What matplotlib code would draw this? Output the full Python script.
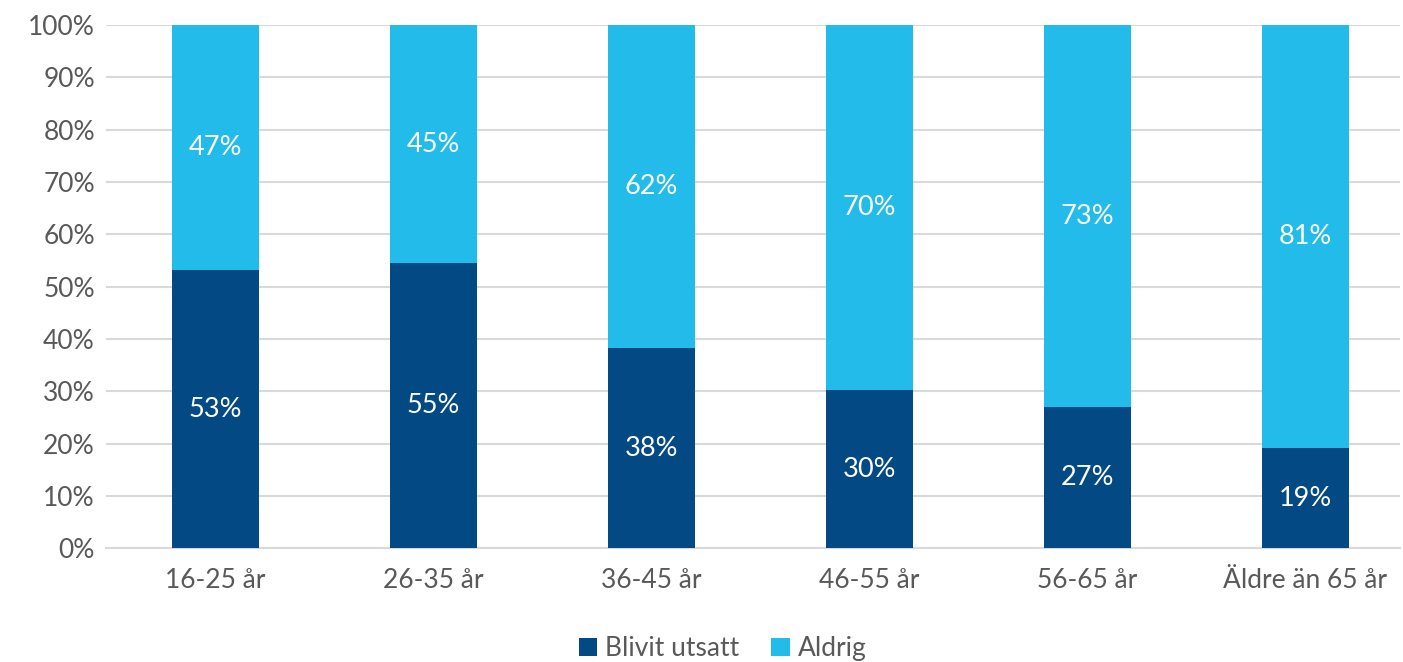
import matplotlib.pyplot as plt
import numpy as np
from matplotlib.ticker import FuncFormatter

plt.rcParams["font.family"] = ["Lato", "DejaVu Sans"]

# ---- Data ----
categories = ["16-25 år", "26-35 år", "36-45 år", "46-55 år", "56-65 år", "Äldre än 65 år"]
blivit_utsatt = [53.2, 54.5, 38.2, 30.2, 27.0, 19.1]
aldrig = [46.8, 45.5, 61.8, 69.8, 73.0, 80.9]
labels_utsatt = ["53%", "55%", "38%", "30%", "27%", "19%"]
labels_aldrig = ["47%", "45%", "62%", "70%", "73%", "81%"]

dark = "#034A84"
light = "#22BBEA"
txt = "#595959"

fig = plt.figure(figsize=(14.03, 6.62), dpi=100)
ax = fig.add_axes([106 / 1403, 0.172, 1294 / 1403, 0.79])

x = np.arange(len(categories))
w = 0.40
b1 = ax.bar(x, blivit_utsatt, w, color=dark, label="Blivit utsatt", zorder=3)
b2 = ax.bar(x, aldrig, w, bottom=blivit_utsatt, color=light, label="Aldrig", zorder=3)

for i in range(len(categories)):
    ax.text(x[i], blivit_utsatt[i] / 2, labels_utsatt[i], ha="center", va="center",
            color="white", fontsize=19.5, zorder=4)
    ax.text(x[i], blivit_utsatt[i] + aldrig[i] / 2, labels_aldrig[i], ha="center", va="center",
            color="white", fontsize=19.5, zorder=4)

ax.set_xlim(-0.502, 5.434)
ax.set_ylim(0, 100)
ax.set_yticks(np.arange(0, 101, 10))
ax.yaxis.set_major_formatter(FuncFormatter(lambda v, _: f"{v:.0f}%"))
ax.set_xticks(x)
ax.set_xticklabels(categories)
ax.tick_params(axis="both", length=0, labelsize=19, labelcolor=txt)
ax.tick_params(axis="x", pad=14)
ax.tick_params(axis="y", pad=8)
ax.grid(axis="y", color="#D9D9D9", linewidth=1.5, zorder=0)
for s in ["top", "right", "left"]:
    ax.spines[s].set_visible(False)
ax.spines["bottom"].set_color("#D9D9D9")
ax.spines["bottom"].set_linewidth(1.5)

fig.legend(handles=[b1, b2], loc="lower center", bbox_to_anchor=(0.515, -0.035), ncol=2,
           frameon=False, fontsize=19, labelcolor=txt, handlelength=0.7, handleheight=0.7,
           handletextpad=0.3, columnspacing=1.2)

fig.savefig("out.png", dpi=100, facecolor="white")
